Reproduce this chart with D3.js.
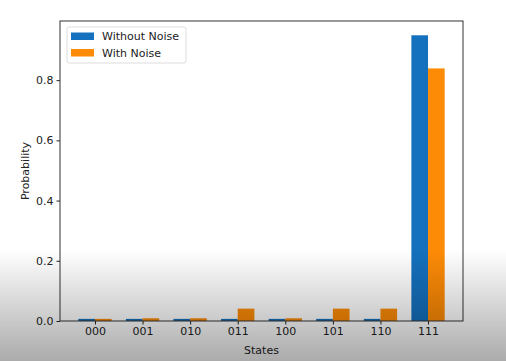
<!DOCTYPE html>
<html>
<head>
<meta charset="utf-8">
<script src="https://cdn.jsdelivr.net/npm/d3@7"></script>
<style>
  body { margin: 0; background: #fff; }
  text { font-family: "DejaVu Sans", sans-serif; fill: #222; }
</style>
</head>
<body>
<div id="chart"></div>
<script>
// data
const states = ["000", "001", "010", "011", "100", "101", "110", "111"];
const withoutNoise = [0.007, 0.007, 0.007, 0.007, 0.007, 0.007, 0.007, 0.949];
const withNoise = [0.007, 0.009, 0.009, 0.041, 0.009, 0.041, 0.041, 0.839];
const yTicks = [0, 0.2, 0.4, 0.6, 0.8];
const seriesNames = ["Without Noise", "With Noise"];
const colors = ["#1570bd", "#fd8b06"];

const W = 506, H = 361;
const margin = { top: 21, right: 43, bottom: 40, left: 60 };
const barW = 0.35;

const svg = d3.select("#chart").append("svg")
  .attr("width", W)
  .attr("height", H);

// x scale in category index units, padded like matplotlib
const xMin = -barW, xMax = states.length - 1 + barW;
const xPad = (xMax - xMin) * 0.05;
const xScale = d3.scaleLinear()
  .domain([xMin - xPad, xMax + xPad])
  .range([margin.left, W - margin.right]);

const yMax = d3.max(withoutNoise.concat(withNoise)) * 1.05;
const yScale = d3.scaleLinear()
  .domain([0, yMax])
  .range([H - margin.bottom, margin.top]);

// bars
const series = [withoutNoise, withNoise];
series.forEach((vals, s) => {
  svg.append("g")
    .selectAll("rect")
    .data(vals)
    .join("rect")
    .attr("x", (d, i) => xScale(i - barW + s * barW))
    .attr("width", xScale(barW) - xScale(0))
    .attr("y", d => yScale(d))
    .attr("height", d => yScale(0) - yScale(d))
    .attr("fill", colors[s]);
});

// axes
const xAxis = svg.append("g")
  .attr("transform", `translate(0, ${H - margin.bottom})`)
  .call(d3.axisBottom(xScale)
    .tickValues(d3.range(states.length))
    .tickFormat(i => states[i])
    .tickSizeOuter(0)
    .tickSize(3.5)
    .tickPadding(3));

const yAxis = svg.append("g")
  .attr("transform", `translate(${margin.left}, 0)`)
  .call(d3.axisLeft(yScale)
    .tickValues(yTicks)
    .tickFormat(d3.format(".1f"))
    .tickSizeOuter(0)
    .tickSize(3.5)
    .tickPadding(3));

[xAxis, yAxis].forEach(a => {
  a.select(".domain").remove();
  a.selectAll("text").style("font-size", "11px").style("font-family", "DejaVu Sans").attr("fill", "#222");
  a.selectAll("line").attr("stroke", "#222");
});

// frame
svg.append("rect")
  .attr("x", margin.left)
  .attr("y", margin.top)
  .attr("width", W - margin.left - margin.right)
  .attr("height", H - margin.top - margin.bottom)
  .attr("fill", "none")
  .attr("stroke", "#333")
  .attr("stroke-width", 1);

// axis labels
svg.append("text")
  .text("States")
  .attr("x", (margin.left + W - margin.right) / 2)
  .attr("y", 354)
  .style("text-anchor", "middle")
  .style("font-size", "11px");

svg.append("text")
  .text("Probability")
  .style("text-anchor", "middle")
  .style("font-size", "11px")
  .attr("transform", `translate(29, ${(margin.top + H - margin.bottom) / 2})rotate(-90)`);

// legend
const legend = svg.append("g").attr("transform", "translate(67, 27)");
legend.append("rect")
  .attr("width", 119)
  .attr("height", 36)
  .attr("rx", 2)
  .attr("fill", "#fff")
  .attr("stroke", "#ddd");
seriesNames.forEach((name, i) => {
  legend.append("rect")
    .attr("x", 4)
    .attr("y", 5.5 + i * 16.5)
    .attr("width", 23)
    .attr("height", 7.5)
    .attr("fill", colors[i]);
  legend.append("text")
    .text(name)
    .attr("x", 35)
    .attr("y", 13 + i * 16.5)
    .style("font-size", "11px");
});

// grey fade over the bottom of the screenshot
const defs = svg.append("defs");
const grad = defs.append("linearGradient")
  .attr("id", "fade")
  .attr("x1", 0).attr("y1", 0).attr("x2", 0).attr("y2", 1);
grad.append("stop").attr("offset", "0%").attr("stop-color", "#000").attr("stop-opacity", 0);
grad.append("stop").attr("offset", "100%").attr("stop-color", "#000").attr("stop-opacity", 0.33);
svg.append("rect")
  .attr("x", 0)
  .attr("y", 250)
  .attr("width", W)
  .attr("height", H - 250)
  .attr("fill", "url(#fade)")
  .style("pointer-events", "none");
</script>
</body>
</html>
